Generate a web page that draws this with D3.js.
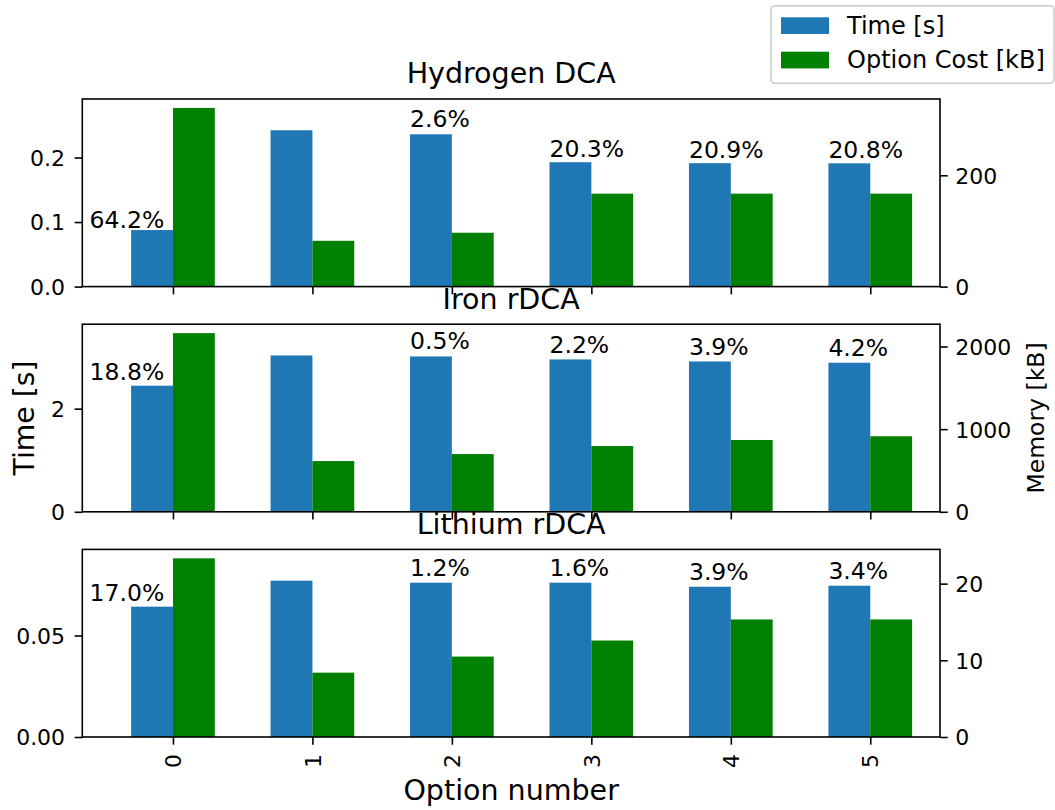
<!DOCTYPE html>
<html>
<head>
<meta charset="utf-8">
<script src="https://cdn.jsdelivr.net/npm/d3@7"></script>
<style>
  html, body { margin: 0; padding: 0; background: #fff; }
  svg { display: block; font-family: "DejaVu Sans", sans-serif; }
</style>
</head>
<body>
<svg id="chart" width="1055" height="810"></svg>
<script>
(() => {
  "use strict";

  // ---- data ----
  const options = [0, 1, 2, 3, 4, 5];
  const titles = ["Hydrogen DCA", "Iron rDCA", "Lithium rDCA"];

  const hydrogenTime = [0.0876, 0.2422, 0.236, 0.1927, 0.1912, 0.191];
  const hydrogenMem  = [321, 82.3, 96.8, 167, 167, 167];
  const hydrogenPct  = ["64.2%", null, "2.6%", "20.3%", "20.9%", "20.8%"];

  const ironTime = [2.445, 3.031, 3.012, 2.954, 2.915, 2.89];
  const ironMem  = [2162, 614, 699, 796, 869, 914];
  const ironPct  = ["18.8%", null, "0.5%", "2.2%", "3.9%", "4.2%"];

  const lithiumTime = [0.0642, 0.077, 0.076, 0.076, 0.074, 0.0745];
  const lithiumMem  = [23.3, 8.39, 10.49, 12.58, 15.33, 15.33];
  const lithiumPct  = ["17.0%", null, "1.2%", "1.6%", "3.9%", "3.4%"];

  const timeTicks = [[0, 0.1, 0.2], [0, 2], [0, 0.05]];
  const timeFmt = [".1f", ".0f", ".2f"];
  const memTicks = [[0, 200], [0, 1000, 2000], [0, 10, 20]];

  const seriesNames = ["Time [s]", "Option Cost [kB]"];

  const panels = [
    { title: titles[0], time: hydrogenTime, mem: hydrogenMem, pct: hydrogenPct },
    { title: titles[1], time: ironTime, mem: ironMem, pct: ironPct },
    { title: titles[2], time: lithiumTime, mem: lithiumMem, pct: lithiumPct },
  ];

  // ---- layout ----
  const BLUE = "#1f77b4", GREEN = "#008000";
  const left = 82.3, right = 940;
  const top0 = 99, ph = 187.6, step = 225.2;
  const tick = 7.7, barW = 0.3;

  const svg = d3.select("#chart");
  const x = d3.scaleLinear().domain([-0.65, 5.5]).range([left, right]);

  panels.forEach((p, k) => {
    const top = top0 + k * step, bot = top + ph;
    // matplotlib-like limits: time axis max*1.2, memory axis with 5% margin
    const yT = d3.scaleLinear().domain([0, d3.max(p.time) * 1.2]).range([bot, top]);
    const yM = d3.scaleLinear().domain([0, d3.max(p.mem) * 1.05]).range([bot, top]);
    const g = svg.append("g");

    // bars
    g.selectAll("rect.t").data(options).join("rect")
      .attr("x", d => x(d - barW)).attr("width", x(barW) - x(0))
      .attr("y", d => yT(p.time[d])).attr("height", d => bot - yT(p.time[d]))
      .attr("fill", BLUE);
    g.selectAll("rect.m").data(options).join("rect")
      .attr("x", d => x(d)).attr("width", x(barW) - x(0))
      .attr("y", d => yM(p.mem[d])).attr("height", d => bot - yM(p.mem[d]))
      .attr("fill", GREEN);

    // percent labels above the time bars
    g.selectAll("text.pct").data(options.filter(d => p.pct[d])).join("text")
      .attr("x", d => d === 0 ? x(d - 0.33) : x(d - barW))
      .attr("y", d => yT(p.time[d] * 1.045))
      .attr("text-anchor", d => d === 0 ? "middle" : "start")
      .attr("font-size", 23.5)
      .text(d => p.pct[d]);

    // axes
    const la = g.append("g").attr("transform", `translate(${left},0)`)
      .call(d3.axisLeft(yT).tickValues(timeTicks[k]).tickFormat(d3.format(timeFmt[k]))
        .tickSize(tick).tickPadding(9.5));
    const ra = g.append("g").attr("transform", `translate(${right},0)`)
      .call(d3.axisRight(yM).tickValues(memTicks[k]).tickFormat(d3.format("d"))
        .tickSize(tick).tickPadding(7.5));
    const ba = g.append("g").attr("transform", `translate(0,${bot})`)
      .call(d3.axisBottom(x).tickValues(options).tickFormat(k === 2 ? d3.format("d") : () => "")
        .tickSize(tick));

    [la, ra, ba].forEach(a => {
      a.select(".domain").remove();
      a.selectAll("line").attr("stroke", "#000").attr("stroke-width", 1.6);
      a.selectAll("text").attr("fill", "#000").attr("font-size", 22)
        .attr("font-family", "DejaVu Sans");
    });
    la.selectAll("text").attr("dy", "0.36em");
    ra.selectAll("text").attr("dy", "0.36em");
    if (k === 2) {
      ba.selectAll("text")
        .attr("transform", "rotate(-90)")
        .attr("y", 0).attr("x", -17).attr("dy", "0.35em")
        .attr("text-anchor", "end");
    }

    // spines
    g.append("rect")
      .attr("x", left).attr("y", top).attr("width", right - left).attr("height", ph)
      .attr("fill", "none").attr("stroke", "#000").attr("stroke-width", 1.6);

    g.append("text")
      .attr("x", (left + right) / 2).attr("y", top - 15.7)
      .attr("text-anchor", "middle").attr("font-size", 28.5)
      .text(p.title);
  });

  // axis labels
  const midY = top0 + step + ph / 2;
  svg.append("text")
    .attr("transform", `translate(34,${midY}) rotate(-90)`)
    .attr("text-anchor", "middle").attr("font-size", 28.3)
    .text("Time [s]");
  svg.append("text")
    .attr("transform", `translate(1043.5,${midY}) rotate(-90)`)
    .attr("text-anchor", "middle").attr("font-size", 23.5)
    .text("Memory [kB]");
  svg.append("text")
    .attr("x", (left + right) / 2).attr("y", 800)
    .attr("text-anchor", "middle").attr("font-size", 28.5)
    .text("Option number");

  // legend
  const lg = svg.append("g");
  lg.append("rect")
    .attr("x", 771).attr("y", 5.7).attr("width", 283).attr("height", 77.6)
    .attr("rx", 4).attr("fill", "#fff").attr("fill-opacity", 0.8)
    .attr("stroke", "#cccccc").attr("stroke-width", 1.6);
  seriesNames.forEach((name, i) => {
    lg.append("rect")
      .attr("x", 781).attr("y", 17.3 + i * 34.4).attr("width", 48).attr("height", 16.7)
      .attr("fill", i === 0 ? BLUE : GREEN);
    lg.append("text")
      .attr("x", 847).attr("y", 33.5 + i * 34.4)
      .attr("font-size", 24)
      .text(name);
  });
})();
</script>
</body>
</html>
